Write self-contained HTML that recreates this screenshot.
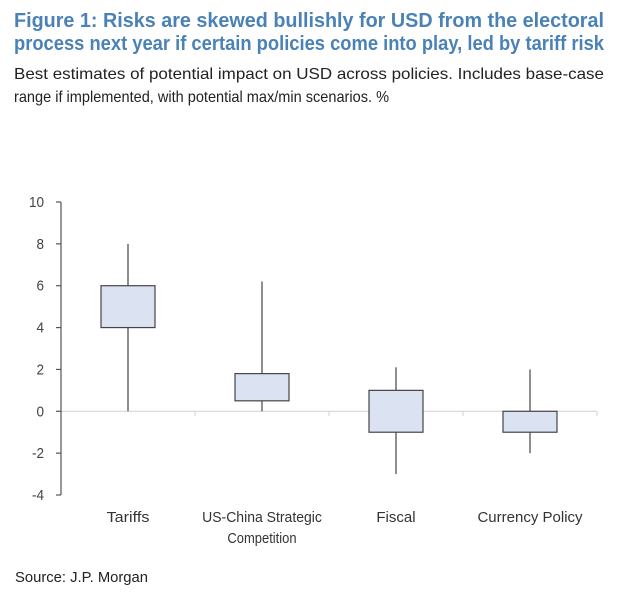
<!DOCTYPE html>
<html><head><meta charset="utf-8"><style>
html,body{margin:0;padding:0;background:#fff;width:620px;height:596px;overflow:hidden}
svg{display:block}
text{font-family:"Liberation Sans Narrow","Liberation Sans",sans-serif}
</style></head><body>
<svg id="chart" width="620" height="596" xmlns="http://www.w3.org/2000/svg">
<text x="14" y="27" font-size="20" font-weight="bold" fill="#4a82b8" textLength="590" lengthAdjust="spacingAndGlyphs">Figure 1: Risks are skewed bullishly for USD from the electoral</text>
<text x="14" y="50" font-size="20" font-weight="bold" fill="#4a82b8" textLength="590" lengthAdjust="spacingAndGlyphs">process next year if certain policies come into play, led by tariff risk</text>
<text x="14" y="79" font-size="16" fill="#222" textLength="590" lengthAdjust="spacingAndGlyphs">Best estimates of potential impact on USD across policies. Includes base-case</text>
<text x="14" y="102" font-size="16" fill="#222" textLength="375" lengthAdjust="spacingAndGlyphs">range if implemented, with potential max/min scenarios. %</text>
<text x="15" y="582" font-size="15" fill="#222" textLength="133" lengthAdjust="spacingAndGlyphs">Source: J.P. Morgan</text>
<g id="plot"></g>
</svg>
<script>
const categories = ["Tariffs", "US-China Strategic|Competition", "Fiscal", "Currency Policy"];
const minValues = [0, 0, -3, -2];
const lowValues = [4, 0.5, -1, -1];
const highValues = [6, 1.8, 1, 0];
const maxValues = [8, 6.2, 2.1, 2];
const yTicks = [10, 8, 6, 4, 2, 0, -2, -4];

const NS = "http://www.w3.org/2000/svg";
const g = document.getElementById("plot");
const x0 = 61, x1 = 597, yTop = 202, yBot = 495, vMax = 10, vMin = -4;
const band = (x1 - x0) / categories.length;
const y = v => yTop + (vMax - v) / (vMax - vMin) * (yBot - yTop);
const xc = i => x0 + band * (i + 0.5);
const charW = ch => ("fijlt:. ".includes(ch) ? 3.3 : (ch === "-" ? 4 : (/[A-Z]/.test(ch) ? 8.3 : 6.9)));
const textW = s => [...s].reduce((a, ch) => a + charW(ch), 0) * 1.1;
function mk(tag, attrs) {
  const e = document.createElementNS(NS, tag);
  for (const k in attrs) e.setAttribute(k, attrs[k]);
  g.appendChild(e);
  return e;
}
let zl = mk("line", {x1: x0, x2: x1, y1: y(0), y2: y(0), stroke: "#d0d0d0", "stroke-width": 1});


for (let i = 1; i <= categories.length; i++) {
  const t = mk("line", {x1: x0 + band * i, x2: x0 + band * i, y1: y(0), y2: y(0) + 5, stroke: "#d0d0d0"});
  
  
}
const ax = mk("line", {x1: x0, x2: x0, y1: y(vMax), y2: y(vMin), stroke: "#555", "stroke-width": 1.2});


yTicks.forEach(v => {
  const t = mk("line", {x1: x0 - 5, x2: x0, y1: y(v), y2: y(v), stroke: "#555", "stroke-width": 1.2});
  
  
  const s = String(v);
  const l = mk("text", {x: 44, y: y(v) + 5, "font-size": 15, fill: "#444", "text-anchor": "end", textLength: s.replace("-", "").length * 7.5 + (v < 0 ? 4.5 : 0), lengthAdjust: "spacingAndGlyphs"});
  l.textContent = s;
  
  
});
categories.forEach((c, i) => {
  const cx = xc(i);
  const w = mk("line", {x1: cx, x2: cx, y1: y(maxValues[i]), y2: y(minValues[i]), stroke: "#444", "stroke-width": 1.2});
  
  
  const r = mk("rect", {x: cx - 27, width: 54, y: y(highValues[i]), height: y(lowValues[i]) - y(highValues[i]), fill: "#dbe3f3", stroke: "#444", "stroke-width": 1.2});
  
  
  c.split("|").forEach((line, k) => {
    const t = mk("text", {x: cx, y: 522 + k * 21, "font-size": 15, fill: "#333", "text-anchor": "middle", textLength: textW(line).toFixed(1), lengthAdjust: "spacingAndGlyphs"});
    t.textContent = line;
    
    
  });
});
</script>
</body></html>
